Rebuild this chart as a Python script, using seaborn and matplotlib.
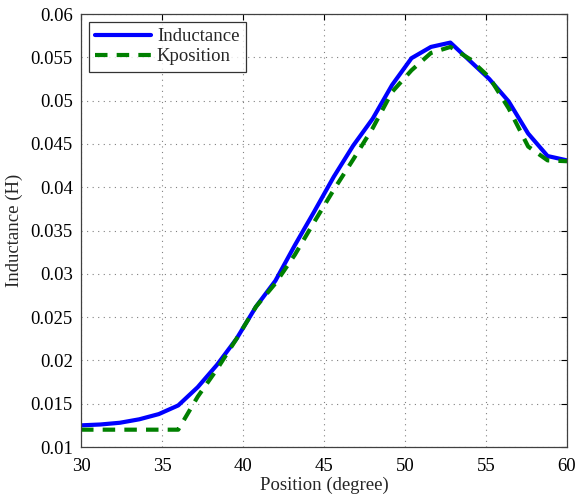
import numpy as np
import pandas as pd
import seaborn as sns
import matplotlib.pyplot as plt
from matplotlib.ticker import FuncFormatter

# -------------------------------
# Data
# -------------------------------
position = [30, 31.2, 32.4, 33.6, 34.8, 36, 37.2, 38.4, 39.6, 40.8, 42, 43.2, 44.4,
            45.6, 46.8, 48, 49.2, 50.4, 51.6, 52.8, 54, 55.2, 56.4, 57.6, 58.8, 60]
inductance = [0.0125, 0.0126, 0.0128, 0.0132, 0.0138, 0.0148, 0.0169, 0.0195, 0.0225,
              0.0262, 0.0292, 0.0333, 0.0372, 0.0412, 0.0448, 0.0479, 0.0518, 0.0549,
              0.0562, 0.0567, 0.0546, 0.0525, 0.0499, 0.0462, 0.0436, 0.0431]
kposition = [0.0120, 0.0120, 0.0120, 0.0120, 0.0120, 0.0120, 0.0158, 0.0190, 0.0225,
             0.0262, 0.0289, 0.0322, 0.0360, 0.0397, 0.0432, 0.0468, 0.0510, 0.0535,
             0.0555, 0.0562, 0.0548, 0.0527, 0.0491, 0.0447, 0.0431, 0.0430]

df = pd.DataFrame({"Position": position, "Inductance": inductance, "Kposition": kposition})

# -------------------------------
# Style
# -------------------------------
sns.set_style("white")
plt.rcParams["font.family"] = ["Liberation Serif", "DejaVu Serif"]

fig = plt.figure(figsize=(5.77, 4.97), dpi=100)
ax = fig.add_axes([0.1404, 0.1006, 0.8423, 0.8712])

sns.lineplot(data=df, x="Position", y="Inductance", ax=ax, color="#0000ff",
             linewidth=3, label="Inductance")
sns.lineplot(data=df, x="Position", y="Kposition", ax=ax, color="#008000",
             linewidth=3, linestyle=(0, (3, 2.2)), label="Kposition")

ax.set_xlim(30, 60)
ax.set_ylim(0.01, 0.06)
ax.set_xticks(np.arange(30, 61, 5))
ax.set_yticks(np.arange(0.01, 0.0601, 0.005))
ax.yaxis.set_major_formatter(FuncFormatter(lambda v, p: f"{v:g}"))

ax.grid(True, linestyle=(0, (1, 4)), color="#808080", linewidth=0.8)
ax.tick_params(direction="in", top=True, right=True, length=4, width=0.8,
               labelsize=13.5, colors="black", pad=6)
ax.tick_params(axis="x", pad=8)
for s in ax.spines.values():
    s.set_color("#404040")
    s.set_linewidth(0.9)

ax.set_xlabel("Position (degree)", fontsize=13.5, labelpad=1)
ax.set_ylabel("Inductance (H)", fontsize=13.5, labelpad=5)

leg = ax.legend(loc="upper left", fontsize=13.5, handlelength=3.0, frameon=True,
                fancybox=False, edgecolor="black", borderaxespad=0.4,
                borderpad=0.35, labelspacing=0.15, handletextpad=0.3)
leg.get_frame().set_linewidth(0.9)
leg._legend_box.sep = 6

fig.savefig("out.png", dpi=100)
plt.close(fig)
